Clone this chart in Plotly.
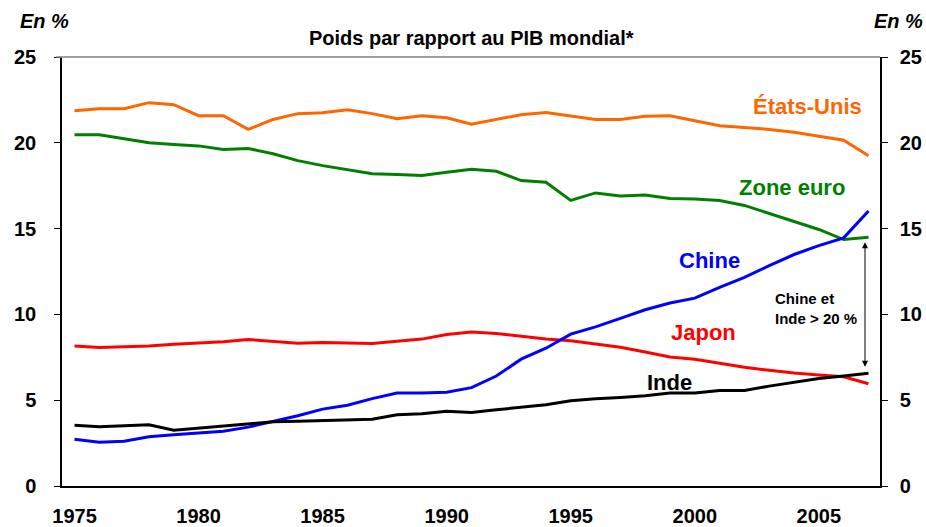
import plotly.graph_objects as go

years = list(range(1975, 2008))

etats_unis = [21.87, 21.99, 21.99, 22.34, 22.22, 21.58, 21.58, 20.78, 21.36, 21.70,
              21.75, 21.93, 21.70, 21.40, 21.58, 21.46, 21.09, 21.38, 21.64, 21.77,
              21.58, 21.36, 21.36, 21.54, 21.58, 21.29, 20.99, 20.89, 20.78, 20.62,
              20.39, 20.15, 19.24]
zone_euro = [20.47, 20.47, 20.23, 20.00, 19.90, 19.82, 19.61, 19.67, 19.36, 18.96,
             18.67, 18.44, 18.20, 18.15, 18.09, 18.28, 18.46, 18.34, 17.80, 17.70,
             16.64, 17.08, 16.90, 16.96, 16.76, 16.72, 16.64, 16.35, 15.88, 15.38,
             14.95, 14.36, 14.50]
japon = [8.16, 8.07, 8.11, 8.16, 8.26, 8.34, 8.40, 8.54, 8.42, 8.32,
         8.36, 8.32, 8.30, 8.44, 8.56, 8.83, 8.98, 8.89, 8.71, 8.56,
         8.46, 8.26, 8.09, 7.81, 7.52, 7.39, 7.15, 6.92, 6.74, 6.58,
         6.47, 6.37, 5.96]
chine = [2.73, 2.55, 2.61, 2.87, 2.98, 3.08, 3.19, 3.43, 3.74, 4.09,
         4.48, 4.71, 5.09, 5.42, 5.42, 5.47, 5.73, 6.41, 7.39, 8.03,
         8.85, 9.27, 9.77, 10.27, 10.66, 10.95, 11.58, 12.16, 12.84, 13.49,
         14.01, 14.46, 16.02]
inde = [3.54, 3.45, 3.51, 3.57, 3.25, 3.37, 3.49, 3.60, 3.74, 3.78,
        3.82, 3.82, 3.89, 4.15, 4.21, 4.36, 4.29, 4.44, 4.58, 4.74,
        4.97, 5.09, 5.16, 5.26, 5.42, 5.42, 5.57, 5.57, 5.82, 6.04,
        6.27, 6.41, 6.57]

x_ticks = [1975, 1980, 1985, 1990, 1995, 2000, 2005]
y_ticks = [0, 5, 10, 15, 20, 25]

FONT = "Arial, Liberation Sans, sans-serif"

series = [
    ("États-Unis", etats_unis, "#FF6600"),
    ("Zone euro", zone_euro, "#008000"),
    ("Japon", japon, "#FF0000"),
    ("Chine", chine, "#0000FF"),
    ("Inde", inde, "#000000"),
]

fig = go.Figure()
for name, vals, col in series:
    fig.add_trace(go.Scatter(x=years, y=vals, mode="lines", name=name,
                             line=dict(color=col, width=3), showlegend=False))
# invisible trace for right axis
fig.add_trace(go.Scatter(x=[years[0]], y=[0], yaxis="y2", mode="lines",
                         line=dict(width=0), showlegend=False, hoverinfo="skip"))

labels = [
    ("<b>États-Unis</b>", 2004.56, 22.09, "#FF6600"),
    ("<b>Zone euro</b>", 2003.9, 17.42, "#008000"),
    ("<b>Chine</b>", 2000.6, 13.17, "#0000FF"),
    ("<b>Japon</b>", 2000.37, 8.92, "#FF0000"),
    ("<b>Inde</b>", 1998.99, 6.06, "#000000"),
]
annotations = []
for txt, x, y, col in labels:
    annotations.append(dict(x=x, y=y, xref="x", yref="y", text=txt, showarrow=False,
                            font=dict(family=FONT, size=22, color=col),
                            xanchor="center", yanchor="middle"))

annotations.append(dict(x=2003.15, y=10.37, xref="x", yref="y",
                        text="<b>Chine et<br>Inde &gt; 20 %</b>", showarrow=False,
                        align="left", xanchor="left", yanchor="middle",
                        font=dict(family=FONT, size=15, color="#000000")))
# double arrow
annotations.append(dict(x=2006.86, y=6.95, ax=2006.86, ay=14.29, xref="x", yref="y",
                        axref="x", ayref="y", text="", showarrow=True,
                        arrowhead=2, startarrowhead=2, arrowside="end+start",
                        arrowsize=1.2, startarrowsize=1.2, arrowwidth=1,
                        arrowcolor="#000000", standoff=0, startstandoff=0))
# title and units
annotations.append(dict(x=0.5, y=1.0434, xref="paper", yref="paper",
                        text="<b>Poids par rapport au PIB mondial*</b>", showarrow=False,
                        xanchor="center", yanchor="middle",
                        font=dict(family=FONT, size=20, color="#000000")))
annotations.append(dict(x=-0.0538, y=1.083, xref="paper", yref="paper",
                        text="<b><i>En %</i></b>", showarrow=False,
                        xanchor="left", yanchor="middle",
                        font=dict(family=FONT, size=20, color="#000000")))
annotations.append(dict(x=0.990, y=1.083, xref="paper", yref="paper",
                        text="<b><i>En %</i></b>", showarrow=False,
                        xanchor="left", yanchor="middle",
                        font=dict(family=FONT, size=20, color="#000000")))

fig.update_layout(
    width=926, height=527,
    margin=dict(l=62, r=46, t=57, b=41, autoexpand=False),
    paper_bgcolor="white", plot_bgcolor="white",
    font=dict(family=FONT, color="#000000"),
    xaxis=dict(range=[1974.496, 2007.464], tickmode="array", tickvals=x_ticks,
               ticktext=[f"<b>{v}</b>" for v in x_ticks], ticks="", automargin=False,
               showgrid=False, zeroline=False, showline=True, linecolor="#000000",
               linewidth=1.5, tickfont=dict(family=FONT, size=20), ticklabelstandoff=11),
    yaxis=dict(range=[0, 25], tickmode="array", tickvals=y_ticks, automargin=False,
               ticktext=[f"<b>{v}</b>" for v in y_ticks], ticks="outside", ticklen=6,
               tickcolor="#000000", tickwidth=1,
               showgrid=False, zeroline=False, showline=True, linecolor="#000000",
               linewidth=1.5, tickfont=dict(family=FONT, size=20), ticklabelstandoff=14),
    yaxis2=dict(range=[0, 25], overlaying="y", side="right", tickmode="array",
                tickvals=y_ticks, ticktext=[f"<b>{v}</b>" for v in y_ticks], automargin=False,
                ticks="outside", ticklen=6, tickcolor="#000000", tickwidth=1,
                showgrid=False, zeroline=False, showline=True, linecolor="#000000",
                linewidth=1.5, tickfont=dict(family=FONT, size=20), ticklabelstandoff=8),
    annotations=annotations,
    shapes=[dict(type="line", xref="paper", yref="paper", x0=-0.007, x1=1, y0=1, y1=1,
                 line=dict(color="#808080", width=1.5))],
)

fig.write_html("out.html", config={"displayModeBar": False},
               post_script="document.body.style.margin='0';document.body.style.padding='0';")
